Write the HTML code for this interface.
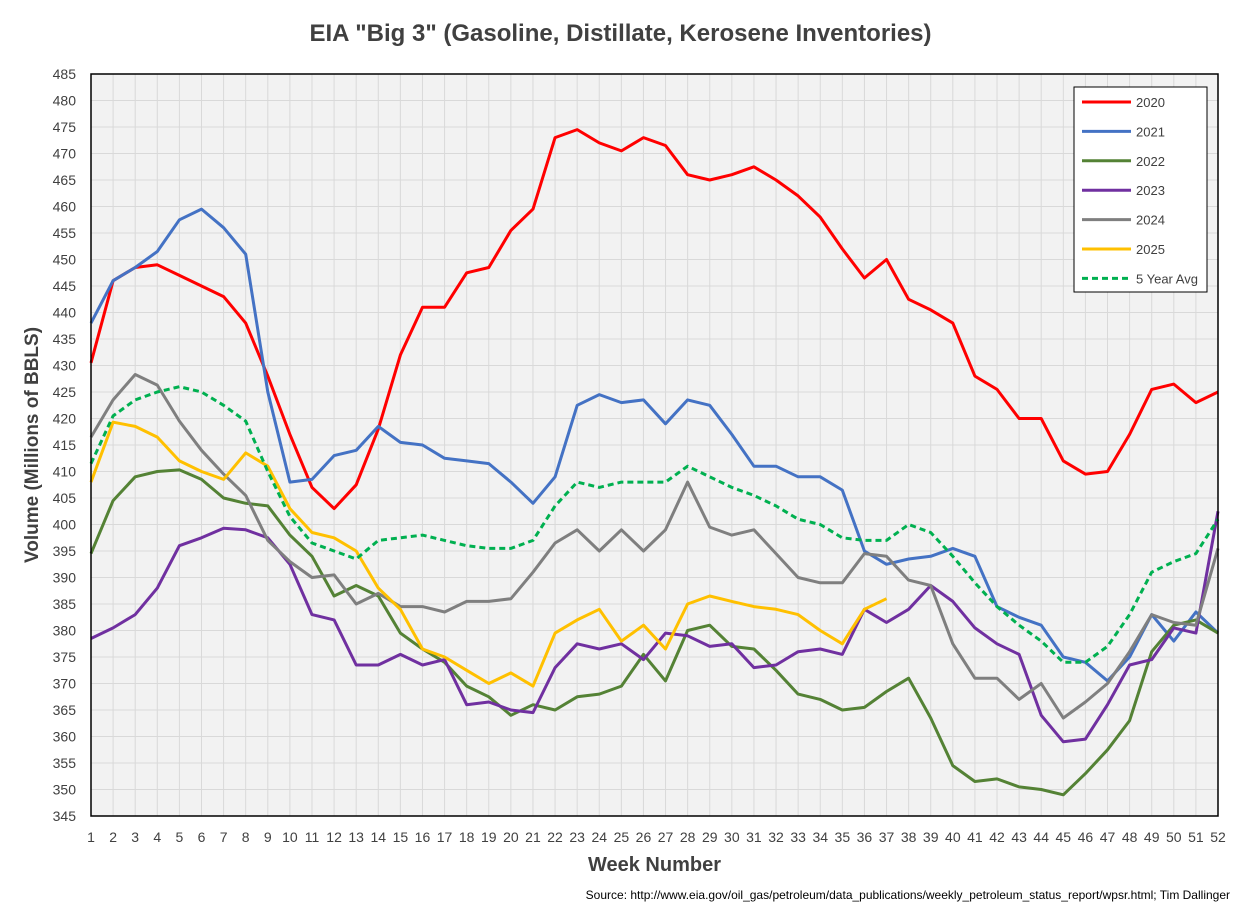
<!DOCTYPE html>
<html><head><meta charset="utf-8"><style>
body{margin:0;background:#fff;width:1241px;height:907px;overflow:hidden;font-family:"Liberation Sans",Arial,sans-serif}
svg text{font-family:"Liberation Sans",Arial,sans-serif}
</style></head><body>
<svg id="chart" width="1241" height="907"></svg>
<script>
const weeks=Array.from({length:52},(_,i)=>i+1);
const yTicks=[345,350,355,360,365,370,375,380,385,390,395,400,405,410,415,420,425,430,435,440,445,450,455,460,465,470,475,480,485];
const s2020=[430.5,446,448.5,449,447,445,443,438,428,417,407,403,407.5,418,432,441,441,447.5,448.5,455.5,459.5,473,474.5,472,470.5,473,471.5,466,465,466,467.5,465,462,458,452,446.5,450,442.5,440.5,438,428,425.5,420,420,412,409.5,410,417,425.5,426.5,423,425];
const s2021=[438,446,448.5,451.5,457.5,459.5,456,451,425,408,408.5,413,414,418.5,415.5,415,412.5,412,411.5,408,404,409,422.5,424.5,423,423.5,419,423.5,422.5,417,411,411,409,409,406.5,395,392.5,393.5,394,395.5,394,384.5,382.5,381,375,374,370.5,375,383,378,383.5,379.5];
const s2022=[394.5,404.5,409,410,410.3,408.5,405,404,403.5,398,394,386.5,388.5,386.5,379.5,376.5,374,369.5,367.5,364,366,365,367.5,368,369.5,375.5,370.5,380,381,377,376.5,372.5,368,367,365,365.5,368.5,371,363.5,354.5,351.5,352,350.5,350,349,353,357.5,363,376,381,382,379.5];
const s2023=[378.5,380.5,383,388,396,397.5,399.3,399,397.5,392.5,383,382,373.5,373.5,375.5,373.5,374.5,366,366.5,365,364.5,373,377.5,376.5,377.5,374.5,379.5,379,377,377.5,373,373.5,376,376.5,375.5,384,381.5,384,388.5,385.5,380.5,377.5,375.5,364,359,359.5,366,373.5,374.5,380.5,379.5,402.5];
const s2024=[416.5,423.5,428.3,426.3,419.5,414,409.5,405.5,397,393,390,390.5,385,387,384.5,384.5,383.5,385.5,385.5,386,391,396.5,399,395,399,395,399,408,399.5,398,399,394.5,390,389,389,394.5,394,389.5,388.5,377.5,371,371,367,370,363.5,366.5,370,376,383,381.5,381,395.5];
const s2025=[408,419.3,418.5,416.5,412,410,408.5,413.5,411,403,398.5,397.5,395,388,384,376.5,375,372.5,370,372,369.5,379.5,382,384,378,381,376.5,385,386.5,385.5,384.5,384,383,380,377.5,384,386];
const sAvg=[411.5,420.5,423.5,425,426,425,422.5,419.5,410,401.5,396.5,395,393.5,397,397.5,398,397,396,395.5,395.5,397,403.5,408,407,408,408,408,411,409,407,405.5,403.5,401,400,397.5,397,397,400,398.5,394,389,384.5,381,378,374,374,377,383,391,393,394.5,401];
const seriesNames=["2020","2021","2022","2023","2024","2025","5 Year Avg"];

const L=91,R=1218,T=74,B=816,ymin=345,ymax=485;
const X=w=>L+(w-1)*(R-L)/51;
const Y=v=>B-(v-ymin)*(B-T)/(ymax-ymin);
const svg=document.getElementById('chart');
const NS='http://www.w3.org/2000/svg';
function mk(tag,attrs,parent){const e=document.createElementNS(NS,tag);for(const k in attrs)e.setAttribute(k,attrs[k]);(parent||svg).appendChild(e);return e;}

const bg=mk('rect',{x:L,y:T,width:R-L,height:B-T,fill:'#f2f2f2'});


const grid=mk('g',{stroke:'#d9d9d9','stroke-width':1});


yTicks.forEach(v=>{mk('line',{x1:L,x2:R,y1:Y(v),y2:Y(v)},grid);});
weeks.forEach(w=>{mk('line',{x1:X(w),x2:X(w),y1:T,y2:B},grid);});

const yl=mk('g',{});


yTicks.forEach(v=>{const t=mk('text',{x:76,y:Y(v)+5,'text-anchor':'end','font-size':14,fill:'#404040'},yl);t.textContent=v;});
const xl=mk('g',{});


weeks.forEach(w=>{const t=mk('text',{x:X(w),y:842,'text-anchor':'middle','font-size':14,fill:'#404040'},xl);t.textContent=w;});

const colors=['#ff0000','#4472c4','#548235','#7030a0','#7f7f7f','#ffc000','#00b050'];
const data=[s2020,s2021,s2022,s2023,s2024,s2025,sAvg];
data.forEach((arr,i)=>{
  const pts=arr.map((v,j)=>X(j+1).toFixed(1)+','+Y(v).toFixed(1)).join(' ');
  const p=mk('polyline',{points:pts,fill:'none',stroke:colors[i],'stroke-width':3,'stroke-linejoin':'round'});
  if(i==6)p.setAttribute('stroke-dasharray','6,4');
  
  
});
const frame=mk('rect',{x:L,y:T,width:R-L,height:B-T,fill:'none',stroke:'#000','stroke-width':1.5});



const lg=mk('g',{});


mk('rect',{x:1074,y:87,width:133,height:205,fill:'#fff',stroke:'#000','stroke-width':1},lg);
seriesNames.forEach((n,i)=>{
  const g=mk('g',{},lg);
  
  
  const yy=102+i*29.4;
  const ln=mk('line',{x1:1082,x2:1131,y1:yy,y2:yy,stroke:colors[i],'stroke-width':3},g);
  if(i==6)ln.setAttribute('stroke-dasharray','6,4');
  const t=mk('text',{x:1136,y:yy+5,'font-size':13,fill:'#404040'},g);t.textContent=n;
});
</script>
<div style="position:absolute;left:0;top:20px;width:1241px;text-align:center;font-size:24px;font-weight:bold;color:#404040">EIA "Big 3" (Gasoline, Distillate, Kerosene Inventories)</div>
<div style="position:absolute;left:33px;top:445px;transform:translate(-50%,-50%) rotate(-90deg);white-space:nowrap;font-size:19px;font-weight:bold;color:#404040">Volume (Millions of BBLS)</div>
<div style="position:absolute;left:91px;width:1127px;top:854px;text-align:center;font-size:20px;font-weight:bold;color:#404040">Week Number</div>
<div style="position:absolute;right:11px;top:888px;font-size:12px;color:#000">Source: http://www.eia.gov/oil_gas/petroleum/data_publications/weekly_petroleum_status_report/wpsr.html; Tim Dallinger</div>
</body></html>
